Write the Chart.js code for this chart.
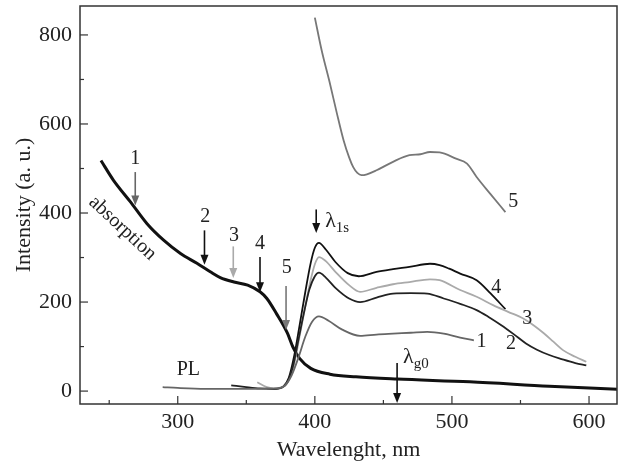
<!DOCTYPE html>
<html>
<head>
<meta charset="utf-8">
<script src="https://cdn.jsdelivr.net/npm/chart.js@4"></script>
<style>
  html, body { margin: 0; padding: 0; background: #fff; }
  #wrap { width: 620px; height: 467px; }
</style>
</head>
<body>
<div id="wrap"><canvas id="grafica"></canvas></div>
<script>
// axis ticks
const xTicks = [300, 400, 500, 600];
const xMinor = [250, 350, 450, 550];
const yTicks = [0, 200, 400, 600, 800];
const yMinor = [100, 300, 500, 700];

// absorption
const absWl  = [244, 253, 265.5, 277.6, 289.7, 302, 314, 323.7, 331, 341, 351, 360, 365, 372, 380, 384, 389, 397, 411, 430, 460, 513, 571, 621];
const absVal = [518, 474, 425, 376, 339, 309, 287, 268, 255, 245, 238, 223, 208, 174, 130, 99, 73, 51, 38, 32, 27, 21, 11, 4];

// PL spectra 1..5
const c1Wl  = [289, 300, 320, 340, 360, 372, 378, 383, 388, 393, 398, 403, 410, 420, 433, 445, 457, 470, 482, 494, 506, 516];
const c1Val = [9, 7, 5, 5, 5, 6, 12, 35, 75, 122, 156, 168, 158, 138, 124, 127, 129, 131, 133, 129, 120, 114];

const c2Wl  = [339, 350, 360, 370, 376, 380, 384, 388, 392, 396, 400, 403, 408, 415, 425, 433, 445, 457, 470, 482, 494, 506, 518, 527, 536, 545, 554, 562, 571, 580, 590, 598];
const c2Val = [13, 9, 6, 5, 8, 20, 55, 115, 175, 228, 258, 266, 255, 232, 208, 200, 210, 219, 220, 219, 208, 196, 182, 166, 148, 128, 107, 93, 81, 72, 63, 58];

const c3Wl  = [358, 365, 372, 377, 381, 385, 389, 393, 397, 400, 403, 408, 415, 425, 433, 445, 457, 469, 484, 491, 506, 518, 530, 541, 552, 560, 567, 574, 581, 590, 598];
const c3Val = [20, 9, 6, 9, 24, 62, 125, 190, 250, 285, 301, 292, 268, 238, 223, 232, 240, 245, 251, 249, 227, 212, 193, 178, 163, 147, 130, 111, 92, 77, 66];

const c4Wl  = [365, 372, 377, 381, 385, 389, 393, 397, 400, 403, 408, 415, 424, 432, 445, 457, 469, 484, 491, 498, 506, 518, 528, 539];
const c4Val = [6, 5, 10, 30, 80, 150, 222, 288, 322, 333, 318, 290, 265, 258, 268, 274, 279, 286, 283, 275, 264, 249, 220, 184];

const c5Wl  = [400, 405, 411, 416, 421, 425, 428, 431, 434, 438, 445, 457, 469, 477, 484, 491, 503, 511, 518, 528, 539];
const c5Val = [839, 765, 691, 625, 563, 525, 503, 490, 485, 487, 496, 515, 530, 532, 537, 536, 522, 511, 481, 443, 402];

// arrows: wavelength, from, to
const arrows = [
  { x: 269, from: 492, to: 417, color: '#666' },
  { x: 319.5, from: 361, to: 284, color: '#111' },
  { x: 340.5, from: 325, to: 254, color: '#aaa' },
  { x: 360, from: 301, to: 222, color: '#111' },
  { x: 379, from: 236, to: 137, color: '#777' },
  { x: 401, from: 408, to: 355, color: '#111' },
  { x: 460, from: 63, to: -27, color: '#111' }
];

// text labels
const labels = [
  { t: '1', x: 269, y: 521 },
  { t: '2', x: 320, y: 391 },
  { t: '3', x: 341, y: 350 },
  { t: '4', x: 360, y: 330 },
  { t: '5', x: 379.5, y: 278 },
  { t: '1', x: 521.6, y: 111 },
  { t: '2', x: 543, y: 107 },
  { t: '3', x: 555, y: 162 },
  { t: '4', x: 532.4, y: 232 },
  { t: '5', x: 544.8, y: 426 },
  { t: 'PL', x: 307.7, y: 47 }
];
const lambdas = [
  { sub: '1s', x: 407.5, y: 368 },
  { sub: 'g0', x: 464.3, y: 64 }
];

function pts(xs, ys) {
  return xs.map((v, i) => ({ x: v, y: ys[i] }));
}

const serif = '"Liberation Serif", "DejaVu Serif", serif';

const extras = {
  id: 'extras',
  afterDatasetsDraw(chart) {
    const ctx = chart.ctx;
    const xs = chart.scales.x, ys = chart.scales.y;
    const a = chart.chartArea;
    ctx.save();

    // frame
    ctx.strokeStyle = '#333';
    ctx.lineWidth = 1.5;
    ctx.strokeRect(a.left, a.top, a.right - a.left, a.bottom - a.top);

    // inward ticks
    ctx.lineWidth = 1.2;
    xTicks.forEach(v => { const p = xs.getPixelForValue(v); ctx.beginPath(); ctx.moveTo(p, a.bottom); ctx.lineTo(p, a.bottom - 8); ctx.stroke(); });
    xMinor.forEach(v => { const p = xs.getPixelForValue(v); ctx.beginPath(); ctx.moveTo(p, a.bottom); ctx.lineTo(p, a.bottom - 4); ctx.stroke(); });
    yTicks.forEach(v => { const p = ys.getPixelForValue(v); ctx.beginPath(); ctx.moveTo(a.left, p); ctx.lineTo(a.left + 8, p); ctx.stroke(); });
    yMinor.forEach(v => { const p = ys.getPixelForValue(v); ctx.beginPath(); ctx.moveTo(a.left, p); ctx.lineTo(a.left + 4, p); ctx.stroke(); });

    // arrows
    arrows.forEach(ar => {
      const px = xs.getPixelForValue(ar.x);
      const y1 = ys.getPixelForValue(ar.from);
      const y2 = ys.getPixelForValue(ar.to);
      ctx.strokeStyle = ar.color;
      ctx.fillStyle = ar.color;
      ctx.lineWidth = 1.6;
      ctx.beginPath(); ctx.moveTo(px, y1); ctx.lineTo(px, y2 - 8); ctx.stroke();
      ctx.beginPath(); ctx.moveTo(px - 4, y2 - 10); ctx.lineTo(px + 4, y2 - 10); ctx.lineTo(px, y2); ctx.closePath(); ctx.fill();
    });

    // labels
    ctx.fillStyle = '#222';
    ctx.font = '20px ' + serif;
    ctx.textAlign = 'center';
    ctx.textBaseline = 'middle';
    labels.forEach(l => ctx.fillText(l.t, xs.getPixelForValue(l.x), ys.getPixelForValue(l.y)));

    // absorption text
    ctx.save();
    ctx.translate(xs.getPixelForValue(259.7), ys.getPixelForValue(366));
    ctx.rotate(43 * Math.PI / 180);
    ctx.fillText('absorption', 0, 0);
    ctx.restore();

    // lambda labels
    ctx.textAlign = 'left';
    ctx.textBaseline = 'alphabetic';
    lambdas.forEach(l => {
      const px = xs.getPixelForValue(l.x), py = ys.getPixelForValue(l.y);
      ctx.font = '22px ' + serif;
      ctx.fillText('λ', px, py);
      const w = ctx.measureText('λ').width;
      ctx.font = '15px ' + serif;
      ctx.fillText(l.sub, px + w, py + 5);
    });
    ctx.restore();
  }
};

const ds = (data, color, width) => ({
  data, borderColor: color, borderWidth: width, pointRadius: 0,
  fill: false, cubicInterpolationMode: 'monotone'
});

new Chart(document.getElementById('grafica'), {
  type: 'line',
  data: {
    datasets: [
      ds(pts(c1Wl, c1Val), '#666', 1.8),
      ds(pts(c2Wl, c2Val), '#222', 1.8),
      ds(pts(c3Wl, c3Val), '#aaa', 1.8),
      ds(pts(c4Wl, c4Val), '#111', 1.8),
      ds(pts(c5Wl, c5Val), '#777', 1.8),
      ds(pts(absWl, absVal), '#111', 3)
    ]
  },
  options: {
    responsive: true,
    maintainAspectRatio: false,
    animation: false,
    events: [],
    layout: { padding: { left: 0, right: 3, top: 6, bottom: 0 } },
    plugins: { legend: { display: false }, tooltip: { enabled: false } },
    scales: {
      x: {
        type: 'linear', min: 228.7, max: 620.4,
        afterBuildTicks: s => { s.ticks = xTicks.map(v => ({ value: v })); },
        afterFit: s => { s.height = 63; s.paddingLeft = 0; s.paddingRight = 0; },
        grid: { display: false, drawTicks: false },
        border: { display: false },
        ticks: { color: '#222', padding: 5, font: { family: serif, size: 22 }, maxRotation: 0 },
        title: { display: true, text: 'Wavelenght, nm', color: '#222', font: { family: serif, size: 22 }, padding: { top: 0, bottom: 4 } }
      },
      y: {
        type: 'linear', min: -29, max: 865,
        afterBuildTicks: s => { s.ticks = yTicks.map(v => ({ value: v })); },
        afterFit: s => { s.width = 80; s.paddingTop = 0; s.paddingBottom = 0; },
        grid: { display: false, drawTicks: false },
        border: { display: false },
        ticks: { color: '#222', padding: 8, font: { family: serif, size: 22 } },
        title: { display: true, text: 'Intensity (a. u.)', color: '#222', font: { family: serif, size: 22 }, padding: { top: 11, bottom: 0 } }
      }
    }
  },
  plugins: [extras]
});
</script>
</body>
</html>
